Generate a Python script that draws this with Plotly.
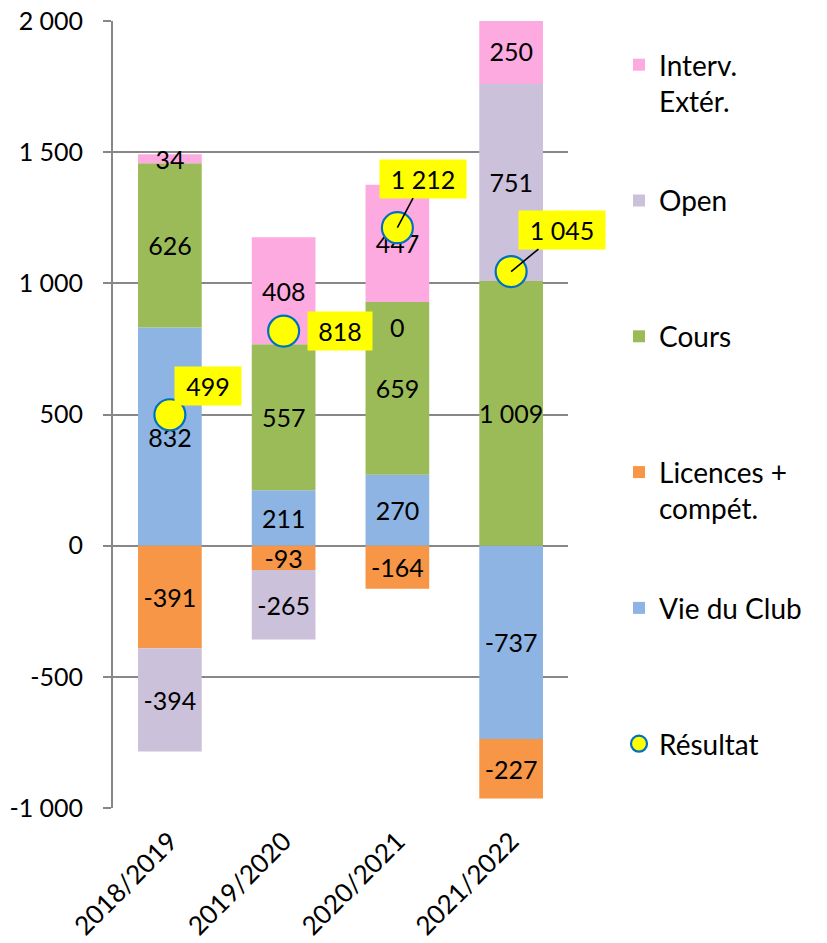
import plotly.graph_objects as go

# ---------------- data ----------------
categories = ["2018/2019", "2019/2020", "2020/2021", "2021/2022"]
vie_du_club = [832, 211, 270, -737]
licences = [-391, -93, -164, -227]
cours = [626, 557, 659, 1009]
open_ = [-394, -265, 0, 751]
interv = [34, 408, 447, 250]
resultat = [499, 818, 1212, 1045]

y_tick_values = [-1000, -500, 0, 500, 1000, 1500, 2000]
y_tick_labels = ["-1 000", "-500", "0", "500", "1 000", "1 500", "2 000"]

series_names = ["Vie du Club", "Licences +<br>compét.", "Cours", "Open", "Interv.<br>Extér."]
series_values = [vie_du_club, licences, cours, open_, interv]
result_name = "Résultat"

# ---------------- style ----------------
colors = ["#8EB4E3", "#F79646", "#9BBB59", "#CCC1DA", "#FCAADF"]
legend_ranks = [5, 4, 3, 2, 1]
FONT = "Lato"
GRAY = "#878787"
Y_MIN, Y_MAX = -1000, 2000
X_RANGE = [-0.5, len(categories) - 0.5]
# offsets (px) of the result labels relative to their markers
label_dx = [38, 56, 26, 51]
label_dy = [-29, 0, -49, -42]
label_arrow = [False, False, True, True]
label_width = [58, 56, 78, 78]
ZERO_LABEL_SHIFT = -25


def fmt(v):
    return f"{v:,}".replace(",", " ")


def two_lines(name):
    return name if "<br>" in name else name + "<br> "


fig = go.Figure()
annotations = []

for s, (name, vals, color, rank) in enumerate(zip(series_names, series_values, colors, legend_ranks)):
    fig.add_trace(go.Bar(
        x=categories, y=vals,
        name=two_lines(name),
        legendgroup=name, legendrank=rank,
        marker=dict(color=color, line=dict(width=0)),
        text=["" if v == 0 else fmt(v) for v in vals],
        textposition="inside",
        textangle=0,
        constraintext="none",
        insidetextanchor="middle",
        textfont=dict(family=FONT, size=25, color="black"),
        insidetextfont=dict(family=FONT, size=25, color="black"),
        hoverinfo="skip",
    ))
    # zero-height segments still get their label (as Excel does)
    for i, v in enumerate(vals):
        if v == 0:
            base = sum(series_values[k][i] for k in range(s) if series_values[k][i] > 0)
            annotations.append(dict(
                x=categories[i], y=base, xref="x", yref="y", text=fmt(v),
                showarrow=False, yshift=ZERO_LABEL_SHIFT,
                font=dict(family=FONT, size=25, color="black"),
            ))

fig.add_trace(go.Scatter(
    x=categories, y=resultat, mode="markers",
    name=result_name, legendgroup="res", legendrank=6,
    marker=dict(size=31, color="#FFFF00", line=dict(color="#0070C0", width=2.2)),
    hoverinfo="skip",
))

for cat, v, dx, dy, arr, w in zip(categories, resultat, label_dx, label_dy, label_arrow, label_width):
    a = dict(
        x=cat, y=v, xref="x", yref="y",
        text=fmt(v),
        font=dict(family=FONT, size=25, color="black"),
        bgcolor="#FFFF00", borderpad=4, width=w, align="center",
    )
    if arr:
        a.update(showarrow=True, ax=dx, ay=dy, arrowhead=0, arrowwidth=1.6,
                 arrowcolor="black", standoff=0, startstandoff=0)
    else:
        a.update(showarrow=False, xshift=dx, yshift=-dy)
    annotations.append(a)

zero_frac = (0 - Y_MIN) / (Y_MAX - Y_MIN)

fig.update_layout(
    width=827, height=943,
    barmode="relative", bargap=0.44,
    plot_bgcolor="white", paper_bgcolor="white",
    margin=dict(l=113, r=259, t=21, b=135, autoexpand=False),
    font=dict(family=FONT, size=24, color="black"),
    showlegend=True,
    legend=dict(
        x=(619 - 113) / 455, xanchor="left",
        y=(808 - 40) / 787, yanchor="top",
        font=dict(family=FONT, size=28, color="black"),
        valign="top", traceorder="grouped", tracegroupgap=60,
        bgcolor="rgba(0,0,0,0)",
    ),
    xaxis=dict(
        type="category", range=X_RANGE, autorange=False,
        showline=False, showgrid=False, zeroline=False,
        ticks="", tickangle=-45, automargin=False, ticklabelstandoff=12,
        ticklabeloverflow="allow",
        tickfont=dict(family=FONT, size=26, color="black"),
    ),
    xaxis2=dict(
        overlaying="x", anchor="free", position=zero_frac, side="bottom",
        range=X_RANGE, autorange=False, tickmode="array",
        tickvals=[i - 0.5 for i in range(len(categories) + 1)],
        ticks="outside", ticklen=10, tickwidth=1.8, tickcolor=GRAY,
        showline=True, linecolor=GRAY, linewidth=1.8, automargin=False,
        showticklabels=False, showgrid=False, zeroline=False,
    ),
    yaxis=dict(
        range=[Y_MIN, Y_MAX], autorange=False, tickmode="array",
        tickvals=y_tick_values, ticktext=y_tick_labels,
        showgrid=True, gridcolor=GRAY, gridwidth=1.8,
        showline=True, linecolor=GRAY, linewidth=1.8,
        ticks="outside", ticklen=8, tickwidth=1.8, tickcolor=GRAY,
        zeroline=False, ticklabelstandoff=15, automargin=False,
        ticklabeloverflow="allow",
        tickfont=dict(family=FONT, size=25, color="black"),
    ),
    annotations=annotations,
)

# remove the page's default 8px body margin so the figure sits at (0, 0)
fig.write_html("out.html", config={"displayModeBar": False},
               post_script="document.body.style.margin = '0';")
